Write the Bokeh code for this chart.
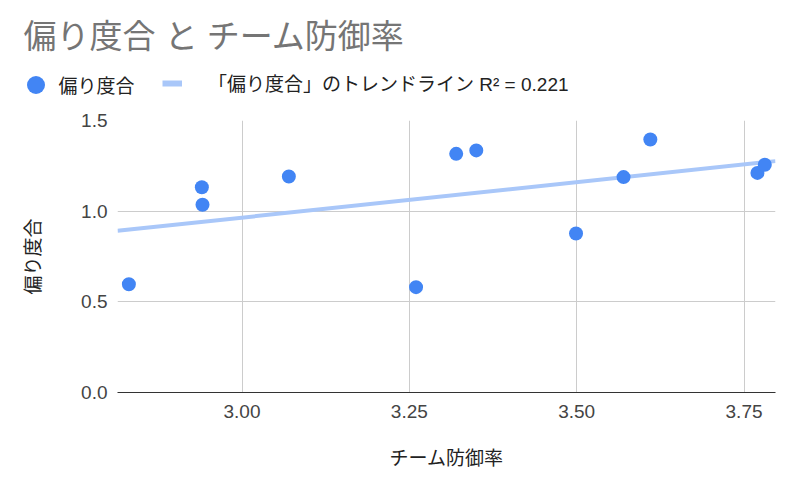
import numpy as np
from bokeh.plotting import figure
from bokeh.layouts import column
from bokeh.models import (ColumnDataSource, Legend, LegendItem, Label, Range1d,
                          FixedTicker, NumeralTickFormatter)
from bokeh.embed import file_html
from bokeh.resources import INLINE

# ---- data ----
title_text = "偏り度合 と チーム防御率"
x_label = "チーム防御率"
y_label = "偏り度合"
series_name = "偏り度合"
trend_name = "「偏り度合」のトレンドライン R² = 0.221"

team_era = [2.831, 2.940, 2.941, 3.070, 3.260, 3.320, 3.350, 3.499, 3.570, 3.610, 3.770, 3.781]
bias = [0.597, 1.132, 1.035, 1.191, 0.581, 1.316, 1.335, 0.877, 1.188, 1.395, 1.211, 1.256]

x_ticks = [3.00, 3.25, 3.50, 3.75]
y_ticks = [0.0, 0.5, 1.0, 1.5]
x_lo, x_hi = 2.814, 3.797
y_lo, y_hi = 0.0, 1.5

# ---- styles ----
BLUE = "#4285F4"
TREND = "#A9C7F9"
CJK = "Liberation Sans, Noto Sans CJK JP"
W = 784
HEAD_H = 108
MAIN_H = 372

src = ColumnDataSource(dict(x=team_era, y=bias))
slope, intercept = np.polyfit(team_era, bias, 1)
tx = [x_lo, x_hi]
trend_src = ColumnDataSource(dict(x=tx, y=[slope * v + intercept for v in tx]))

# ---------- main chart ----------
main = figure(width=W, height=MAIN_H, output_backend="svg", toolbar_location=None,
              x_range=Range1d(x_lo, x_hi), y_range=Range1d(y_lo, y_hi),
              min_border_left=117, min_border_right=9, min_border_top=12, min_border_bottom=88)
main.title = None
main.outline_line_color = None

main.line("x", "y", source=trend_src, line_color=TREND, line_width=4)
main.scatter("x", "y", source=src, size=14, fill_color=BLUE, line_color=None)

for ax in (main.xaxis[0], main.yaxis[0]):
    ax.major_tick_line_color = None
    ax.minor_tick_line_color = None
    ax.major_tick_out = 0
    ax.major_tick_in = 0
    ax.major_label_text_font = "Liberation Sans"
    ax.major_label_text_font_size = "19px"
    ax.major_label_text_color = "#444444"
    ax.axis_label_text_font = CJK
    ax.axis_label_text_font_size = "19px"
    ax.axis_label_text_font_style = "normal"
    ax.axis_label_text_color = "#222222"

main.xaxis.ticker = FixedTicker(ticks=x_ticks)
main.yaxis.ticker = FixedTicker(ticks=y_ticks)
main.xaxis.formatter = NumeralTickFormatter(format="0.00")
main.yaxis.formatter = NumeralTickFormatter(format="0.0")
main.xaxis.axis_label = x_label
main.yaxis.axis_label = y_label
main.xaxis.axis_line_color = "#333333"
main.xaxis.axis_line_width = 1.2
main.yaxis.axis_line_color = None
main.xaxis.major_label_standoff = 12
main.yaxis.major_label_standoff = 10
main.xaxis.axis_label_standoff = 27
main.yaxis.axis_label_standoff = 34

main.xgrid.ticker = FixedTicker(ticks=x_ticks)
main.ygrid.ticker = FixedTicker(ticks=y_ticks)
main.xgrid.grid_line_color = "#cccccc"
main.ygrid.grid_line_color = "#cccccc"

# ---------- header: title + legend (same series, kept out of view) ----------
head = figure(width=W, height=HEAD_H, output_backend="svg", toolbar_location=None,
              x_axis_type=None, y_axis_type=None, x_range=Range1d(0, 1), y_range=Range1d(0, 1),
              min_border=0, min_border_left=0, min_border_right=0,
              min_border_top=0, min_border_bottom=0)
head.title = None
head.outline_line_color = None
head.xgrid.visible = False
head.ygrid.visible = False

head.add_layout(Label(x=23, y=HEAD_H - 36, x_units="screen", y_units="screen", text=title_text,
                      text_font=CJK, text_font_size="33px", text_color="#757575",
                      text_baseline="middle", text_align="left"))

sw_pts = head.scatter("x", "y", source=src, size=14, fill_color=BLUE, line_color=None)
sw_trend = head.line("x", "y", source=trend_src, line_color=TREND, line_width=6)

common = dict(orientation="horizontal", padding=0, margin=0, spacing=0,
              border_line_color=None, background_fill_alpha=0, label_text_font=CJK,
              label_text_font_size="19px", label_text_color="#222222")

leg_pts = Legend(items=[LegendItem(label=series_name, renderers=[sw_pts], index=0)],
                 location=(12.5, HEAD_H - 84 - 22.5), glyph_width=45, glyph_height=45,
                 label_standoff=1, **common)
leg_trend = Legend(items=[LegendItem(label=trend_name, renderers=[sw_trend])],
                   location=(162, HEAD_H - 84 - 12), glyph_width=20, glyph_height=24,
                   label_standoff=26, **common)
head.add_layout(leg_pts)
head.add_layout(leg_trend)

p = column(column(head), main, spacing=0)
open("out.html", "w").write(file_html(p, INLINE))
